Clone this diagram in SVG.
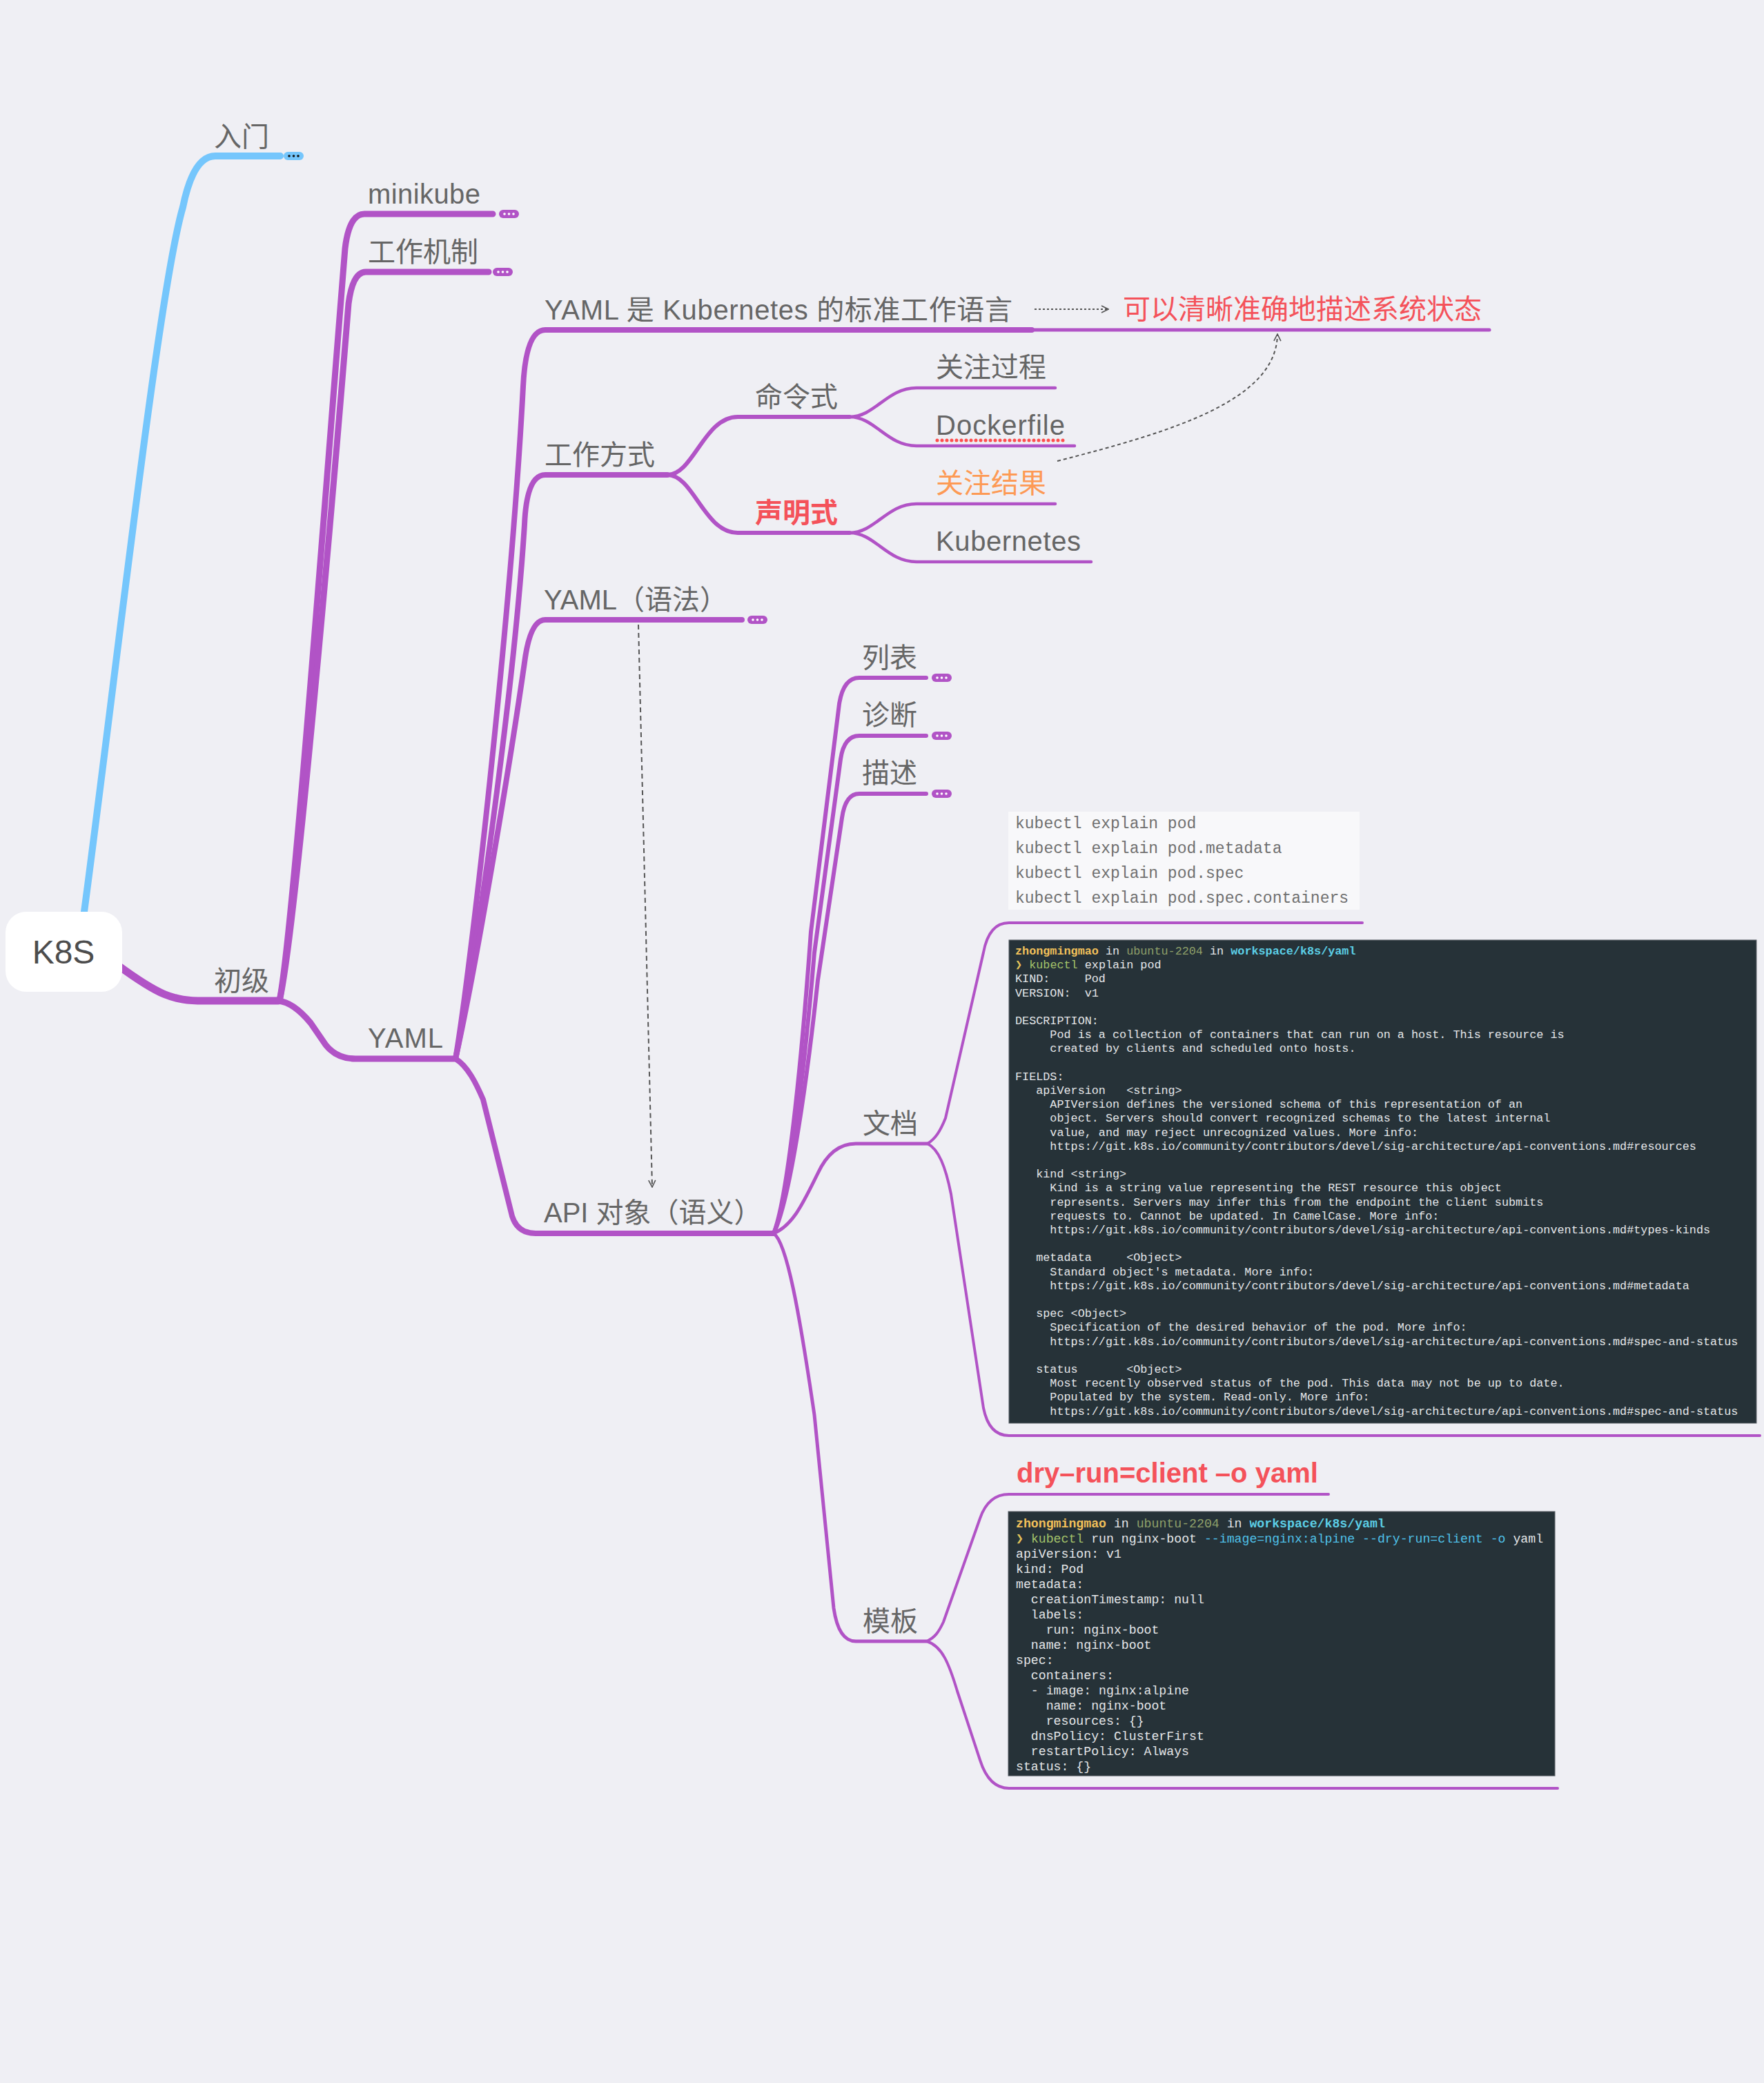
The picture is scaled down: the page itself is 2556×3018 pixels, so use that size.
<svg xmlns="http://www.w3.org/2000/svg" width="2556" height="3018" viewBox="0 0 2556 3018">
<style>
.t{font-family:"Liberation Sans","Noto Sans CJK SC",sans-serif;font-size:40px;fill:#666666}
.red{fill:#f4525a}
.org{fill:#fd9a55}
.b{font-weight:bold}
.br{fill:none;stroke:#b153c6;stroke-linecap:round;stroke-linejoin:round}
.blue{fill:none;stroke:#75c6fc;stroke-linecap:round;stroke-linejoin:round}
.rel{fill:none;stroke:#555555;stroke-width:2}
.pill{fill:#b153c6}
.dotw{fill:#ffffff}
.dotk{fill:#111111}
.code{font-family:"Liberation Mono","DejaVu Sans Mono",monospace;font-size:23px;fill:#707070}
.term{font-family:"Liberation Mono","DejaVu Sans Mono",monospace;fill:#e4e6e8}
.t1{font-size:16.8px}
.t2{font-size:18.2px}
.yel{fill:#f2c05a;font-weight:bold}
.olv{fill:#8fa06a}
.cyn{fill:#5ccfe6;font-weight:bold}
.grn{fill:#a3c36a}
.cy2{fill:#4fc1e9}
</style>
<defs>
<marker id="arr" viewBox="0 0 12 12" refX="11" refY="6" markerWidth="12" markerHeight="12" markerUnits="userSpaceOnUse" orient="auto">
<path d="M1 1 L11 6 L1 11" fill="none" stroke="#555555" stroke-width="1.6"/>
</marker>
</defs>
<rect x="0" y="0" width="2556" height="3018" fill="#efeff4"/>

<g id="connectors">
<path class="blue" stroke-width="10" d="M122 1321 C170 960 230 420 265 300 Q280 226 312 226 L406 226"/>
<path class="br" stroke-width="11" d="M170 1398 C230 1442 250 1450 295 1450 L403 1450"/>
<path class="br" stroke-width="9" d="M405 1450 C425 1350 474 680 500 360 Q506 310 528 310 L714 310"/>
<path class="br" stroke-width="9" d="M405 1450 C428 1350 480 750 505 440 Q511 394 530 394 L708 394"/>
<path class="br" stroke-width="9" d="M403 1450 Q425 1452 450 1482 L472 1514 Q488 1534 515 1534 L658 1534"/>
<path class="br" stroke-width="8" d="M660 1534 C680 1420 740 900 758 560 Q762 478 790 478 L1495 478"/>
<path class="br" stroke-width="5" d="M1495 478 L2158 478"/>
<path class="br" stroke-width="8" d="M660 1534 C685 1420 745 1000 760 760 Q763 688 790 688 L967 688"/>
<path class="br" stroke-width="8" d="M660 1534 C690 1400 740 1100 760 960 Q768 898 790 898 L1075 898"/>
<path class="br" stroke-width="8" d="M660 1534 C678 1545 690 1570 700 1593 L742 1762 Q750 1787 776 1787 L1121 1787"/>
<path class="br" stroke-width="6" d="M967 688 C1005 688 1020 604 1069 604 L1231 604"/>
<path class="br" stroke-width="6" d="M967 688 C1005 688 1020 772 1069 772 L1231 772"/>
<path class="br" stroke-width="4.5" d="M1231 604 C1268 604 1285 562 1328 562 L1529 562"/>
<path class="br" stroke-width="4.5" d="M1231 604 C1268 604 1285 646 1328 646 L1557 646"/>
<path class="br" stroke-width="4.5" d="M1231 772 C1268 772 1285 730 1328 730 L1529 730"/>
<path class="br" stroke-width="4.5" d="M1231 772 C1268 772 1285 814 1328 814 L1581 814"/>
<path class="br" stroke-width="6" d="M1121 1787 C1140 1740 1160 1560 1175 1350 L1216 1020 Q1222 982 1245 982 L1342 982"/>
<path class="br" stroke-width="6" d="M1121 1787 C1142 1740 1165 1560 1180 1380 L1218 1100 Q1223 1066 1245 1066 L1342 1066"/>
<path class="br" stroke-width="6" d="M1121 1787 C1145 1740 1170 1560 1185 1420 L1220 1185 Q1225 1150 1245 1150 L1342 1150"/>
<path class="br" stroke-width="5" d="M1121 1787 C1150 1775 1165 1740 1185 1700 Q1205 1657 1240 1657 L1344 1657"/>
<path class="br" stroke-width="5" d="M1121 1787 C1140 1800 1158 1900 1180 2050 L1208 2330 Q1215 2378 1240 2378 L1343 2378"/>
<path class="br" stroke-width="4" d="M1344 1657 C1355 1650 1362 1640 1370 1620 L1425 1380 Q1433 1337 1462 1337 L1974 1337"/>
<path class="br" stroke-width="4" d="M1344 1657 C1360 1665 1370 1690 1378 1730 L1425 2040 Q1433 2080 1462 2080 L2550 2080"/>
<path class="br" stroke-width="4" d="M1343 2378 C1355 2372 1360 2365 1367 2350 L1420 2200 Q1432 2165 1462 2165 L1925 2165"/>
<path class="br" stroke-width="4" d="M1343 2378 C1365 2385 1375 2410 1387 2450 L1420 2550 Q1433 2591 1462 2591 L2257 2591"/>
<path class="rel" stroke-dasharray="3 3" marker-end="url(#arr)" d="M1499 448 L1606 448"/>
<path class="rel" stroke-dasharray="5 4" marker-end="url(#arr)" d="M1532 668 C1700 625 1850 580 1851 484"/>
<path class="rel" stroke-dasharray="7 5" marker-end="url(#arr)" d="M925 905 L945 1720"/>
</g>

<g id="k8s">
<rect x="8" y="1321" width="169" height="116" rx="30" fill="#ffffff"/>
<text class="t" x="92" y="1396" text-anchor="middle" style="font-size:48px;fill:#4d4d4d">K8S</text>
</g>

<g id="rumen">
<text class="t" x="310" y="212">入门</text>
<rect x="411" y="220" width="29" height="12" rx="6" fill="#75c6fc"/>
<circle class="dotk" cx="419" cy="226" r="1.8"/><circle class="dotk" cx="425.5" cy="226" r="1.8"/><circle class="dotk" cx="432" cy="226" r="1.8"/>
</g>

<g id="chuji"><text class="t" x="310" y="1435">初级</text></g>

<g id="minikube">
<text class="t" x="533" y="295" textLength="163">minikube</text>
<rect class="pill" x="723" y="304" width="29" height="12" rx="6"/>
<circle class="dotw" cx="731" cy="310" r="1.8"/><circle class="dotw" cx="737.5" cy="310" r="1.8"/><circle class="dotw" cx="744" cy="310" r="1.8"/>
</g>

<g id="gongzuojizhi">
<text class="t" x="533" y="379">工作机制</text>
<rect class="pill" x="714" y="388" width="29" height="12" rx="6"/>
<circle class="dotw" cx="722" cy="394" r="1.8"/><circle class="dotw" cx="728.5" cy="394" r="1.8"/><circle class="dotw" cx="735" cy="394" r="1.8"/>
</g>

<g id="yaml"><text class="t" x="533" y="1518" textLength="109">YAML</text></g>

<g id="yaml-std"><text class="t" x="789" y="463" textLength="678">YAML 是 Kubernetes 的标准工作语言</text></g>

<g id="desc-state"><text class="t red" x="1627" y="462">可以清晰准确地描述系统状态</text></g>

<g id="gongzuofangshi"><text class="t" x="789" y="673">工作方式</text></g>

<g id="mingling"><text class="t" x="1094" y="589">命令式</text></g>

<g id="shengming"><text class="t red b" x="1094" y="757">声明式</text></g>

<g id="guanzhu-guocheng"><text class="t" x="1356" y="546">关注过程</text></g>

<g id="dockerfile">
<text class="t" x="1356" y="630" textLength="187">Dockerfile</text>
<line x1="1358" y1="638" x2="1543" y2="638" stroke="#ff4d4d" stroke-width="5" stroke-linecap="round" stroke-dasharray="0 7"/>
</g>

<g id="guanzhu-jieguo"><text class="t org" x="1356" y="714">关注结果</text></g>

<g id="kubernetes"><text class="t" x="1356" y="798" textLength="210">Kubernetes</text></g>

<g id="yaml-syntax">
<text class="t" x="788" y="883">YAML（语法）</text>
<rect class="pill" x="1083" y="892" width="29" height="12" rx="6"/>
<circle class="dotw" cx="1091" cy="898" r="1.8"/><circle class="dotw" cx="1097.5" cy="898" r="1.8"/><circle class="dotw" cx="1104" cy="898" r="1.8"/>
</g>

<g id="api">
<text class="t" x="788" y="1771">API 对象（语义）</text>
</g>

<g id="liebiao">
<text class="t" x="1249" y="967">列表</text>
<rect class="pill" x="1350" y="976" width="29" height="12" rx="6"/>
<circle class="dotw" cx="1358" cy="982" r="1.8"/><circle class="dotw" cx="1364.5" cy="982" r="1.8"/><circle class="dotw" cx="1371" cy="982" r="1.8"/>
</g>

<g id="zhenduan">
<text class="t" x="1249" y="1050">诊断</text>
<rect class="pill" x="1350" y="1060" width="29" height="12" rx="6"/>
<circle class="dotw" cx="1358" cy="1066" r="1.8"/><circle class="dotw" cx="1364.5" cy="1066" r="1.8"/><circle class="dotw" cx="1371" cy="1066" r="1.8"/>
</g>

<g id="miaoshu">
<text class="t" x="1249" y="1134">描述</text>
<rect class="pill" x="1350" y="1144" width="29" height="12" rx="6"/>
<circle class="dotw" cx="1358" cy="1150" r="1.8"/><circle class="dotw" cx="1364.5" cy="1150" r="1.8"/><circle class="dotw" cx="1371" cy="1150" r="1.8"/>
</g>

<g id="wendang"><text class="t" x="1250" y="1642">文档</text></g>

<g id="code-explain">
<rect x="1461" y="1176" width="509" height="142" fill="#f8f8fa"/>
<text class="code" x="1471" y="1200" xml:space="preserve">kubectl explain pod</text>
<text class="code" x="1471" y="1236" xml:space="preserve">kubectl explain pod.metadata</text>
<text class="code" x="1471" y="1272" xml:space="preserve">kubectl explain pod.spec</text>
<text class="code" x="1471" y="1308" xml:space="preserve">kubectl explain pod.spec.containers</text>
</g>

<g id="terminal-explain">
<rect x="1462" y="1362" width="1083" height="700" fill="#263238" stroke="#5a6066" stroke-width="1"/>
<text class="term t1" xml:space="preserve">
<tspan x="1471" y="1383"><tspan class="yel">zhongmingmao</tspan> in <tspan class="olv">ubuntu-2204</tspan> in <tspan class="cyn">workspace/k8s/yaml</tspan></tspan>
<tspan x="1471" y="1403.2"><tspan fill="#e5c45a">❯</tspan> <tspan class="grn">kubectl</tspan> explain pod</tspan>
<tspan x="1471" y="1423.4">KIND:     Pod</tspan>
<tspan x="1471" y="1443.6">VERSION:  v1</tspan>
<tspan x="1471" y="1484">DESCRIPTION:</tspan>
<tspan x="1471" y="1504.2">     Pod is a collection of containers that can run on a host. This resource is</tspan>
<tspan x="1471" y="1524.4">     created by clients and scheduled onto hosts.</tspan>
<tspan x="1471" y="1564.8">FIELDS:</tspan>
<tspan x="1471" y="1585">   apiVersion   &lt;string&gt;</tspan>
<tspan x="1471" y="1605.2">     APIVersion defines the versioned schema of this representation of an</tspan>
<tspan x="1471" y="1625.4">     object. Servers should convert recognized schemas to the latest internal</tspan>
<tspan x="1471" y="1645.6">     value, and may reject unrecognized values. More info:</tspan>
<tspan x="1471" y="1665.8">     https://git.k8s.io/community/contributors/devel/sig-architecture/api-conventions.md#resources</tspan>
<tspan x="1471" y="1706.2">   kind &lt;string&gt;</tspan>
<tspan x="1471" y="1726.4">     Kind is a string value representing the REST resource this object</tspan>
<tspan x="1471" y="1746.6">     represents. Servers may infer this from the endpoint the client submits</tspan>
<tspan x="1471" y="1766.8">     requests to. Cannot be updated. In CamelCase. More info:</tspan>
<tspan x="1471" y="1787">     https://git.k8s.io/community/contributors/devel/sig-architecture/api-conventions.md#types-kinds</tspan>
<tspan x="1471" y="1827.4">   metadata     &lt;Object&gt;</tspan>
<tspan x="1471" y="1847.6">     Standard object's metadata. More info:</tspan>
<tspan x="1471" y="1867.8">     https://git.k8s.io/community/contributors/devel/sig-architecture/api-conventions.md#metadata</tspan>
<tspan x="1471" y="1908.2">   spec &lt;Object&gt;</tspan>
<tspan x="1471" y="1928.4">     Specification of the desired behavior of the pod. More info:</tspan>
<tspan x="1471" y="1948.6">     https://git.k8s.io/community/contributors/devel/sig-architecture/api-conventions.md#spec-and-status</tspan>
<tspan x="1471" y="1989">   status       &lt;Object&gt;</tspan>
<tspan x="1471" y="2009.2">     Most recently observed status of the pod. This data may not be up to date.</tspan>
<tspan x="1471" y="2029.4">     Populated by the system. Read-only. More info:</tspan>
<tspan x="1471" y="2049.6">     https://git.k8s.io/community/contributors/devel/sig-architecture/api-conventions.md#spec-and-status</tspan>
</text>
</g>

<g id="muban"><text class="t" x="1250" y="2363">模板</text></g>

<g id="dry-run"><text class="t red b" x="1473" y="2148">dry–run=client –o yaml</text></g>

<g id="terminal-dryrun">
<rect x="1461" y="2190" width="792" height="383" fill="#263238" stroke="#5a6066" stroke-width="1"/>
<text class="term t2" xml:space="preserve">
<tspan x="1472" y="2213"><tspan class="yel">zhongmingmao</tspan> in <tspan class="olv">ubuntu-2204</tspan> in <tspan class="cyn">workspace/k8s/yaml</tspan></tspan>
<tspan x="1472" y="2235"><tspan fill="#e5c45a">❯</tspan> <tspan class="grn">kubectl</tspan> run nginx-boot <tspan class="cy2">--image=nginx:alpine --dry-run=client -o</tspan> yaml</tspan>
<tspan x="1472" y="2257">apiVersion: v1</tspan>
<tspan x="1472" y="2279">kind: Pod</tspan>
<tspan x="1472" y="2301">metadata:</tspan>
<tspan x="1472" y="2323">  creationTimestamp: null</tspan>
<tspan x="1472" y="2345">  labels:</tspan>
<tspan x="1472" y="2367">    run: nginx-boot</tspan>
<tspan x="1472" y="2389">  name: nginx-boot</tspan>
<tspan x="1472" y="2411">spec:</tspan>
<tspan x="1472" y="2433">  containers:</tspan>
<tspan x="1472" y="2455">  - image: nginx:alpine</tspan>
<tspan x="1472" y="2477">    name: nginx-boot</tspan>
<tspan x="1472" y="2499">    resources: {}</tspan>
<tspan x="1472" y="2521">  dnsPolicy: ClusterFirst</tspan>
<tspan x="1472" y="2543">  restartPolicy: Always</tspan>
<tspan x="1472" y="2565">status: {}</tspan>
</text>
</g>
</svg>
